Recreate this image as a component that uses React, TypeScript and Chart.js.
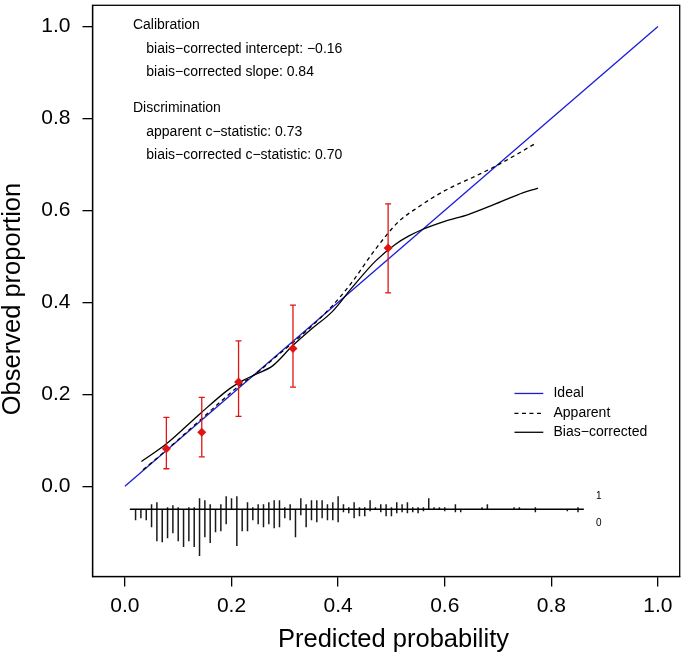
import React, { useEffect, useRef } from "react";
import { Chart, registerables } from "chart.js";

Chart.register(...registerables);

// ---------------- data ----------------
const xTicks = [0, 0.2, 0.4, 0.6, 0.8, 1.0];
const yTicks = [0, 0.2, 0.4, 0.6, 0.8, 1.0];

const idealX = [0, 1];
const idealY = [0, 1];

const apparentX = [0.034, 0.08, 0.14, 0.2146, 0.252, 0.289, 0.3265, 0.3886, 0.426, 0.4696, 0.513, 0.55, 0.6, 0.662, 0.7, 0.771];
const apparentY = [0.036, 0.081, 0.143, 0.219, 0.251, 0.2875, 0.3235, 0.392, 0.444, 0.515, 0.575, 0.607, 0.643, 0.677, 0.699, 0.746];

const biasX = [0.031, 0.078, 0.14, 0.196, 0.221, 0.246, 0.277, 0.314, 0.351, 0.389, 0.426, 0.47, 0.507, 0.532, 0.557, 0.6, 0.644, 0.693, 0.737, 0.775];
const biasY = [0.054, 0.0925, 0.157, 0.212, 0.23, 0.244, 0.262, 0.305, 0.343, 0.38, 0.432, 0.4897, 0.526, 0.544, 0.558, 0.576, 0.591, 0.613, 0.634, 0.6486];

const groupX = [0.0778, 0.1442, 0.2132, 0.3153, 0.4938];
const groupObs = [0.0816, 0.1176, 0.2267, 0.2995, 0.5182];
const groupLo = [0.0383, 0.0643, 0.1522, 0.2159, 0.4207];
const groupHi = [0.15, 0.1934, 0.3162, 0.3941, 0.6143];

const spikeX = [0.02, 0.03, 0.04, 0.05, 0.06, 0.07, 0.08, 0.09, 0.1, 0.11, 0.12, 0.13, 0.14, 0.15, 0.16, 0.17, 0.18, 0.19, 0.2, 0.21, 0.22, 0.23, 0.24, 0.25, 0.26, 0.27, 0.28, 0.29, 0.3, 0.31, 0.32, 0.33, 0.34, 0.35, 0.36, 0.37, 0.38, 0.39, 0.4, 0.41, 0.42, 0.43, 0.44, 0.45, 0.46, 0.47, 0.48, 0.49, 0.5, 0.51, 0.52, 0.53, 0.54, 0.55, 0.56, 0.57, 0.58, 0.59, 0.6, 0.62, 0.63, 0.67, 0.68, 0.73, 0.74, 0.77, 0.83, 0.85];
const spikeEvents = [0, 0, 0, 5, 7, 0, 2, 4, 2, 0, 2, 2, 11, 9, 5, 0, 5, 13, 11, 13, 0, 7, 2, 5, 5, 7, 9, 9, 2, 5, 0, 11, 5, 9, 9, 9, 5, 7, 13, 5, 2, 7, 2, 2, 9, 2, 5, 5, 2, 7, 5, 7, 2, 2, 2, 11, 2, 2, 2, 5, 0, 2, 5, 2, 2, 2, 0, 2];
const spikeNonEvents = [11, 9, 11, 18, 32, 33, 29, 24, 32, 38, 32, 38, 47, 28, 34, 23, 22, 15, 0, 37, 22, 22, 11, 15, 18, 15, 19, 18, 9, 11, 28, 6, 18, 11, 13, 9, 11, 11, 13, 3, 4, 9, 7, 7, 2, 0, 3, 7, 7, 4, 3, 4, 3, 4, 2, 0, 0, 0, 2, 3, 3, 0, 0, 0, 0, 3, 2, 3];
const predRange = [0.0093, 0.861];

const statLines = [
  "Calibration",
  "biais\u2212corrected intercept: \u22120.16",
  "biais\u2212corrected slope: 0.84",
  "Discrimination",
  "apparent c\u2212statistic: 0.73",
  "biais\u2212corrected c\u2212statistic: 0.70",
];
const legendLabels = ["Ideal", "Apparent", "Bias\u2212corrected"];
const spikeLabels = ["1", "0"];
const xTitle = "Predicted probability";
const yTitle = "Observed proportion";

// ---------------- layout / style ----------------
const FONT = "'Liberation Sans', Arial, Helvetica, sans-serif";
const BLUE = "rgb(28,28,215)";
const RED = "rgb(225,20,20)";
const LW = 1.3;
const SPIKE_BASE = -0.0498;
const SPIKE_UNIT = 1 / 461.8;
const statPos = [
  [0.015, 1.0037],
  [0.04, 0.9513],
  [0.04, 0.9009],
  [0.015, 0.8213],
  [0.04, 0.7709],
  [0.04, 0.7204],
];
const legendLine = [0.7308, 0.7849];
const legendTextX = 0.804;
const legendY = [0.202, 0.1587, 0.1176];
const spikeLabelPos = [
  [0.889, -0.0217],
  [0.889, -0.0802],
];
const TITLE_SIZE = 25.5;
const X_TITLE_POS = [393.5, 647];
const Y_TITLE_POS = [19.5, 299];

const toXY = (xs: number[], ys: number[]) => xs.map((x, i) => ({ x, y: ys[i] }));

function errorBarData() {
  const out: any[] = [];
  groupX.forEach((x, i) => {
    out.push({ x, y: groupLo[i] }, { x, y: groupHi[i] }, { x, y: NaN });
  });
  return out;
}

function spikeData() {
  const out: any[] = [];
  spikeX.forEach((x, i) => {
    const up = spikeEvents[i];
    const dn = spikeNonEvents[i];
    if (up === 0 && dn === 0) return;
    out.push(
      { x, y: SPIKE_BASE + up * SPIKE_UNIT },
      { x, y: SPIKE_BASE - dn * SPIKE_UNIT },
      { x, y: NaN }
    );
  });
  return out;
}

const overlayPlugin = {
  id: "overlay",
  afterDraw(chart: any) {
    const { ctx, chartArea, scales } = chart;
    const xs = scales.x;
    const ys = scales.y;
    ctx.save();
    // box
    ctx.strokeStyle = "#000";
    ctx.lineWidth = LW;
    ctx.setLineDash([]);
    ctx.strokeRect(chartArea.left, chartArea.top, chartArea.right - chartArea.left, chartArea.bottom - chartArea.top);

    ctx.fillStyle = "#000";
    ctx.textBaseline = "middle";
    ctx.textAlign = "left";
    ctx.font = `14px ${FONT}`;
    statLines.forEach((t, i) => {
      ctx.fillText(t, xs.getPixelForValue(statPos[i][0]), ys.getPixelForValue(statPos[i][1]));
    });

    // legend
    const styles = [
      { color: BLUE, dash: [] as number[] },
      { color: "#000", dash: [4, 3.5] },
      { color: "#000", dash: [] as number[] },
    ];
    legendLabels.forEach((t, i) => {
      const y = ys.getPixelForValue(legendY[i]);
      ctx.beginPath();
      ctx.strokeStyle = styles[i].color;
      ctx.setLineDash(styles[i].dash);
      ctx.lineWidth = LW;
      ctx.moveTo(xs.getPixelForValue(legendLine[0]), y);
      ctx.lineTo(xs.getPixelForValue(legendLine[1]), y);
      ctx.stroke();
      ctx.setLineDash([]);
      ctx.fillStyle = "#000";
      ctx.fillText(t, xs.getPixelForValue(legendTextX), y);
    });

    ctx.font = `10px ${FONT}`;
    ctx.textAlign = "center";
    spikeLabels.forEach((t, i) => {
      ctx.fillText(t, xs.getPixelForValue(spikeLabelPos[i][0]), ys.getPixelForValue(spikeLabelPos[i][1]));
    });

    // axis titles
    ctx.font = `${TITLE_SIZE}px ${FONT}`;
    ctx.textAlign = "center";
    ctx.textBaseline = "alphabetic";
    ctx.fillText(xTitle, X_TITLE_POS[0], X_TITLE_POS[1]);
    ctx.translate(Y_TITLE_POS[0], Y_TITLE_POS[1]);
    ctx.rotate(-Math.PI / 2);
    ctx.fillText(yTitle, 0, 0);
    ctx.restore();
  },
};

export default function App() {
  const ref = useRef<HTMLCanvasElement | null>(null);
  useEffect(() => {
    if (!ref.current) return;
    const lineDs = (data: any[], color: string, extra: any = {}) => ({
      data,
      showLine: true,
      borderColor: color,
      backgroundColor: color,
      borderWidth: LW,
      pointRadius: 0,
      spanGaps: false,
      ...extra,
    });
    const chart = new Chart(ref.current, {
      type: "scatter",
      data: {
        datasets: [
          {
            data: toXY(groupX, groupObs),
            pointStyle: "rectRot",
            pointRadius: 4.5,
            backgroundColor: RED,
            borderColor: RED,
            borderWidth: 0,
            showLine: false,
          } as any,
          lineDs(errorBarData(), RED, {
            pointStyle: "line",
            pointRadius: 3,
            pointBorderColor: RED,
            pointBorderWidth: LW,
          }),
          lineDs(toXY(biasX, biasY), "#000", { cubicInterpolationMode: "monotone" }),
          lineDs(toXY(apparentX, apparentY), "#000", { cubicInterpolationMode: "monotone", borderDash: [4, 3.5] }),
          lineDs(toXY(idealX, idealY), BLUE),
          lineDs(toXY(predRange, [SPIKE_BASE, SPIKE_BASE]), "#000"),
          lineDs(spikeData(), "#1a1a1a", { borderWidth: 1.5 }),
        ],
      },
      options: {
        animation: false,
        responsive: false,
        devicePixelRatio: 1,
        layout: { padding: { top: 3, right: 2.5, left: 0, bottom: 0 } },
        plugins: { legend: { display: false }, tooltip: { enabled: false } },
        scales: {
          x: {
            type: "linear",
            min: -0.0608,
            max: 1.0408,
            afterBuildTicks: (s: any) => {
              s.ticks = xTicks.map((v) => ({ value: v }));
            },
            afterFit: (s: any) => {
              s.height = 80.5;
              s.paddingLeft = 0;
              s.paddingRight = 0;
            },
            grid: { drawOnChartArea: false, drawTicks: true, tickLength: 10, color: "#000", lineWidth: LW },
            border: { display: true, color: "#000", width: LW },
            ticks: {
              color: "#000",
              font: { family: FONT, size: 21 },
              padding: 7,
              autoSkip: false,
              maxRotation: 0,
              callback: (v: any) => Number(v).toFixed(1),
            },
            title: { display: false },
          },
          y: {
            type: "linear",
            min: -0.196,
            max: 1.046,
            afterBuildTicks: (s: any) => {
              s.ticks = yTicks.map((v) => ({ value: v }));
            },
            afterFit: (s: any) => {
              s.width = 92.5;
              s.paddingTop = 0;
              s.paddingBottom = 0;
            },
            grid: { drawOnChartArea: false, drawTicks: true, tickLength: 10, color: "#000", lineWidth: LW },
            border: { display: true, color: "#000", width: LW },
            ticks: {
              color: "#000",
              font: { family: FONT, size: 21 },
              padding: 12,
              autoSkip: false,
              callback: (v: any) => Number(v).toFixed(1),
            },
            title: { display: false },
          },
        },
      } as any,
      plugins: [overlayPlugin],
    });
    return () => chart.destroy();
  }, []);
  return (
    <div style={{ position: "absolute", left: 0, top: 0, width: 685, height: 657, background: "#fff" }}>
      <canvas ref={ref} width={685} height={657} style={{ display: "block" }} />
    </div>
  );
}
